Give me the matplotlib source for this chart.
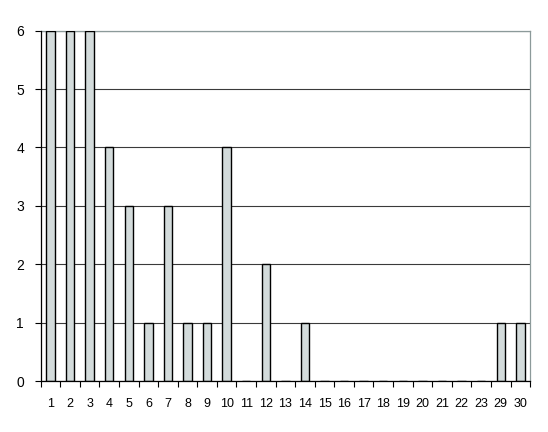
import matplotlib
matplotlib.use("Agg")
import matplotlib.pyplot as plt
import numpy as np

plt.rcParams["font.family"] = ["Liberation Sans", "DejaVu Sans"]

categories = [str(i) for i in range(1, 24)] + ["29", "30"]
values = [6, 6, 6, 4, 3, 1, 3, 1, 1, 4, 0, 2, 0, 1, 0, 0, 0, 0, 0, 0, 0, 0, 0, 1, 1]
yticks = [0, 1, 2, 3, 4, 5, 6]

fig = plt.figure(figsize=(5.48, 4.32), dpi=100)
ax = fig.add_axes([0.0743, 0.118, 0.893, 0.811])

x = np.arange(len(categories))
ax.bar(x, values, width=0.43, color="#d3dbdb", edgecolor="black", linewidth=1.0, zorder=3)

ax.set_xlim(-0.5, len(categories) - 0.5)
ax.set_ylim(0, 6)
ax.set_yticks(yticks)
ax.set_yticklabels([str(t) for t in yticks], fontsize=10)
ax.yaxis.grid(True, color="#3a3a3a", linewidth=0.8, zorder=1)
ax.set_axisbelow(True)

ax.set_xticks(x)
ax.set_xticklabels(categories, fontsize=9)
ax.tick_params(axis="x", which="major", length=0, pad=12)
ax.set_xticks(np.arange(-0.5, len(categories)), minor=True)
ax.tick_params(axis="x", which="minor", length=4, width=0.8, direction="out")
ax.tick_params(axis="y", length=4, width=0.8, direction="out", pad=8)

for s in ["left", "bottom"]:
    ax.spines[s].set_color("black")
    ax.spines[s].set_linewidth(0.9)
    ax.spines[s].set_zorder(4)
for s in ["top", "right"]:
    ax.spines[s].set_color("#8c9a9a")
    ax.spines[s].set_linewidth(0.9)

fig.savefig("out.png", dpi=100)
